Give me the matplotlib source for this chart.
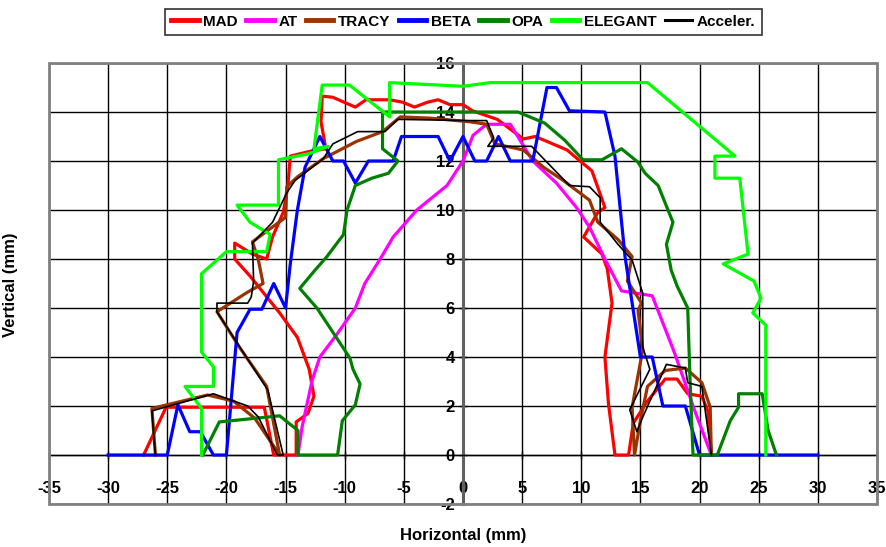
import matplotlib.pyplot as plt
from matplotlib.patches import Rectangle

plt.rcParams['font.family'] = ['Liberation Sans', 'DejaVu Sans']
plt.rcParams['font.weight'] = 'bold'
plt.rcParams['axes.unicode_minus'] = False

# Dynamic aperture contours (x, y in mm)
mad_x = [-27.0, -25.1, -16.8, -16.0, -14.1, -14.1, -13.1, -12.6, -13.0, -14.0, -15.5, -18.0,
         -19.3, -19.3, -17.8, -16.6, -16.1, -15.2, -14.8, -14.6, -12.9, -11.6, -12.0, -11.9,
         -11.0, -9.1, -8.2, -6.2, -5.1, -4.1, -3.0, -2.1, -1.1, 0.0, 0.8, 1.7, 2.9, 4.0, 5.1,
         6.1, 7.1, 8.8, 9.9, 10.9, 12.0, 11.4, 10.2, 11.75, 12.2, 12.6, 12.0, 12.3, 12.85,
         14.0, 14.4, 15.6, 17.1, 18.1, 19.0, 20.2, 20.7, 21.0]
mad_y = [0.0, 1.95, 1.95, 0.0, 0.0, 1.35, 1.7, 2.4, 3.5, 4.8, 5.8, 7.3,
         8.0, 8.65, 8.2, 8.0, 8.9, 9.9, 11.0, 12.2, 12.4, 12.5, 13.6, 14.65,
         14.6, 14.2, 14.5, 14.5, 14.4, 14.2, 14.4, 14.5, 14.3, 14.3, 14.05, 13.9, 13.7, 13.3, 12.9,
         13.0, 12.8, 12.45, 12.0, 11.6, 10.1, 9.9, 8.9, 8.2, 7.6, 6.2, 4.0, 2.1, 0.0,
         0.0, 1.3, 2.2, 3.1, 3.1, 2.5, 2.4, 1.8, 0.0]

at_x = [-13.95, -13.6, -12.75, -12.1, -10.7, -9.1, -8.3, -7.0, -5.9, -3.9, -1.35, 0.0, 0.85,
        2.0, 4.0, 5.9, 7.9, 9.6, 10.7, 12.0, 13.4, 16.0, 17.9, 19.6, 21.0]
at_y = [0.0, 1.15, 3.05, 4.0, 4.9, 6.0, 7.0, 8.0, 8.9, 10.0, 11.0, 12.0, 13.05,
        13.5, 13.5, 12.0, 11.1, 10.1, 9.3, 8.0, 6.7, 6.5, 4.15, 1.8, 0.0]

tracy_x = [-26.0, -26.3, -21.6, -19.4, -17.6, -15.5, -16.6, -18.9, -20.8, -18.2, -16.9, -17.3,
           -17.8, -15.0, -14.9, -14.0, -11.8, -9.0, -6.8, -5.3, -2.8, 0.6, 2.0, 2.7, 5.1, 6.8,
           8.5, 10.7, 11.4, 13.1, 14.3, 13.9, 15.1, 14.8, 15.2, 14.3, 14.5, 15.0, 15.6, 17.1,
           18.8, 20.2, 20.9, 21.0]
tracy_y = [0.0, 1.9, 2.45, 2.2, 1.5, 0.0, 2.8, 4.4, 5.85, 6.65, 7.0, 7.96,
           8.7, 9.7, 10.95, 11.35, 12.1, 12.8, 13.2, 13.8, 13.75, 13.6, 13.5, 12.7, 12.45, 11.75,
           11.2, 10.4, 9.5, 8.8, 8.1, 7.1, 6.2, 5.9, 4.3, 1.95, 0.0, 1.4, 2.8, 3.45,
           3.55, 2.95, 1.95, 0.0]

beta_x = [-30.0, -25.0, -24.1, -23.1, -22.2, -21.1, -20.0, -19.1, -18.0, -17.0, -16.0, -15.0,
          -14.6, -14.0, -13.35, -12.1, -11.0, -10.1, -9.1, -8.0, -5.9, -5.2, -2.1, -1.1, 0.0,
          1.0, 2.0, 3.0, 4.0, 5.9, 7.1, 7.9, 9.0, 12.0, 12.85, 13.7, 15.0, 16.0, 16.9, 18.8,
          20.0, 30.0]
beta_y = [0.0, 0.0, 2.05, 0.95, 0.95, 0.0, 0.0, 5.0, 5.95, 5.95, 7.0, 6.0,
          7.8, 10.0, 11.75, 13.0, 12.0, 12.0, 11.1, 12.0, 12.0, 13.0, 13.0, 12.0, 13.0,
          12.0, 12.0, 13.0, 12.0, 12.0, 15.0, 15.0, 14.05, 14.0, 12.2, 8.1, 4.0, 4.0, 2.0, 2.0,
          0.0, 0.0]

opa_x = [-22.0, -20.6, -15.5, -13.95, -13.95, -10.6, -10.2, -9.1, -8.7, -9.3, -9.55, -12.35,
         -13.8, -12.5, -11.5, -10.1, -9.8, -9.1, -7.7, -6.3, -5.5, -6.8, -6.8, 4.65, 6.9, 8.6,
         10.15, 11.75, 13.4, 14.8, 15.4, 16.5, 17.75, 17.2, 17.6, 18.1, 19.0, 19.2, 19.45,
         21.5, 22.6, 23.3, 23.3, 25.3, 25.8, 26.5]
opa_y = [0.0, 1.35, 1.6, 1.0, 0.0, 0.0, 1.4, 2.05, 2.9, 3.5, 3.95, 6.0,
         6.8, 7.55, 8.1, 9.0, 10.0, 11.0, 11.3, 11.5, 12.0, 12.5, 14.0, 14.0, 13.55, 12.85,
         12.05, 12.05, 12.5, 11.95, 11.5, 11.0, 9.5, 8.6, 7.55, 6.9, 6.0, 3.0, 0.0,
         0.0, 1.4, 1.95, 2.5, 2.5, 1.0, 0.0]

elegant_x = [-22.1, -22.1, -23.5, -21.1, -21.1, -22.1, -22.1, -20.0, -16.6, -16.3, -18.0, -19.1,
             -15.6, -15.6, -13.0, -11.4, -12.6, -11.9, -9.6, -6.2, -6.2, 0.0, 2.3, 15.6, 23.0,
             21.3, 21.3, 23.4, 24.1, 22.0, 24.6, 25.2, 24.5, 25.6, 25.6]
elegant_y = [0.0, 1.9, 2.8, 2.8, 3.6, 4.2, 7.4, 8.3, 8.3, 9.0, 9.5, 10.2,
             10.2, 12.05, 12.3, 12.6, 12.5, 15.1, 15.1, 13.8, 15.2, 15.05, 15.2, 15.2, 12.2,
             12.2, 11.3, 11.3, 8.2, 7.8, 7.1, 6.4, 5.8, 5.3, 0.0]

acc_x = [-26.0, -26.2, -26.3, -21.1, -18.2, -17.3, -15.7, -15.2, -16.5, -19.4, -20.8, -20.8,
         -18.2, -17.9, -17.7, -17.8, -16.1, -14.9, -14.2, -11.8, -11.0, -8.9, -6.6, -5.5, 0.6,
         2.0, 2.6, 2.1, 5.8, 9.0, 10.7, 11.6, 11.6, 13.1, 14.3, 15.2, 15.2, 15.8, 14.1, 14.7,
         15.2, 17.2, 18.8, 19.0, 20.2, 21.0]
acc_y = [0.0, 1.15, 1.8, 2.5, 2.0, 1.55, 0.0, 0.0, 2.65, 4.8, 5.85, 6.2,
         6.2, 6.45, 7.1, 8.65, 9.5, 10.7, 11.2, 12.1, 12.7, 13.2, 13.2, 13.7, 13.65,
         13.65, 12.95, 12.6, 12.6, 11.0, 10.95, 10.5, 9.5, 8.6, 7.96, 6.6, 4.4, 3.5, 1.85, 0.95,
         1.55, 3.7, 3.55, 2.95, 2.8, 0.0]

x_ticks = [-35, -30, -25, -20, -15, -10, -5, 0, 5, 10, 15, 20, 25, 30, 35]
y_ticks = [-2, 0, 2, 4, 6, 8, 10, 12, 14, 16]

series = [
    ("MAD", mad_x, mad_y, "#FF0000", 2.3),
    ("AT", at_x, at_y, "#FF00FF", 2.3),
    ("TRACY", tracy_x, tracy_y, "#993300", 2.3),
    ("BETA", beta_x, beta_y, "#0000FF", 2.3),
    ("OPA", opa_x, opa_y, "#008000", 2.3),
    ("ELEGANT", elegant_x, elegant_y, "#00FF00", 2.3),
    ("Acceler.", acc_x, acc_y, "#000000", 1.2),
]

fig = plt.figure(figsize=(8.86, 5.47), dpi=100)
ax = fig.add_axes([0.0553, 0.0786, 0.9345, 0.8062])

for name, xs, ys, col, lw in series:
    ax.plot(xs, ys, color=col, lw=lw, label=name, zorder=3)

ax.set_xlim(-35, 35)
ax.set_ylim(-2, 16)
ax.set_xticks(x_ticks)
ax.set_yticks(y_ticks)
ax.grid(True, color='black', lw=1.0, zorder=0)
ax.set_axisbelow(True)

# axes crossing at the origin
ax.spines['left'].set_position(('data', 0))
ax.spines['bottom'].set_position(('data', 0))
ax.spines['left'].set_color('#606060')
ax.spines['left'].set_linewidth(2.2)
ax.spines['bottom'].set_color('black')
ax.spines['bottom'].set_linewidth(1.0)
ax.spines['top'].set_visible(False)
ax.spines['right'].set_visible(False)
ax.add_patch(Rectangle((0, 0), 1, 1, transform=ax.transAxes, fill=False,
                       edgecolor='#808080', lw=2, zorder=5, clip_on=False))

ax.tick_params(axis='x', direction='inout', length=6, width=1, pad=16,
               labelsize=12, color='black')
ax.tick_params(axis='y', direction='inout', length=6, width=1, pad=3,
               labelsize=12, color='black')
for lab in ax.get_xticklabels() + ax.get_yticklabels():
    lab.set_fontweight('bold')
    lab.set_zorder(6)

fig.text(0.523, 0.008, "Horizontal (mm)", ha='center', va='bottom',
         fontsize=12, fontweight='bold')
fig.text(0.012, 0.48, "Vertical (mm)", ha='center', va='center', rotation=90,
         fontsize=12, fontweight='bold')

leg = fig.legend(loc='upper center', bbox_to_anchor=(0.523, 0.998), ncol=7,
                 frameon=True, fancybox=False, edgecolor='black',
                 handlelength=1.8, handletextpad=0.3, columnspacing=0.55,
                 borderpad=0.4, prop={'weight': 'bold', 'size': 11})
leg.get_frame().set_linewidth(1.2)
for line in leg.get_lines():
    line.set_linewidth(3.5 if line.get_color() != '#000000' else 2.2)

fig.savefig("out.png", dpi=100)
